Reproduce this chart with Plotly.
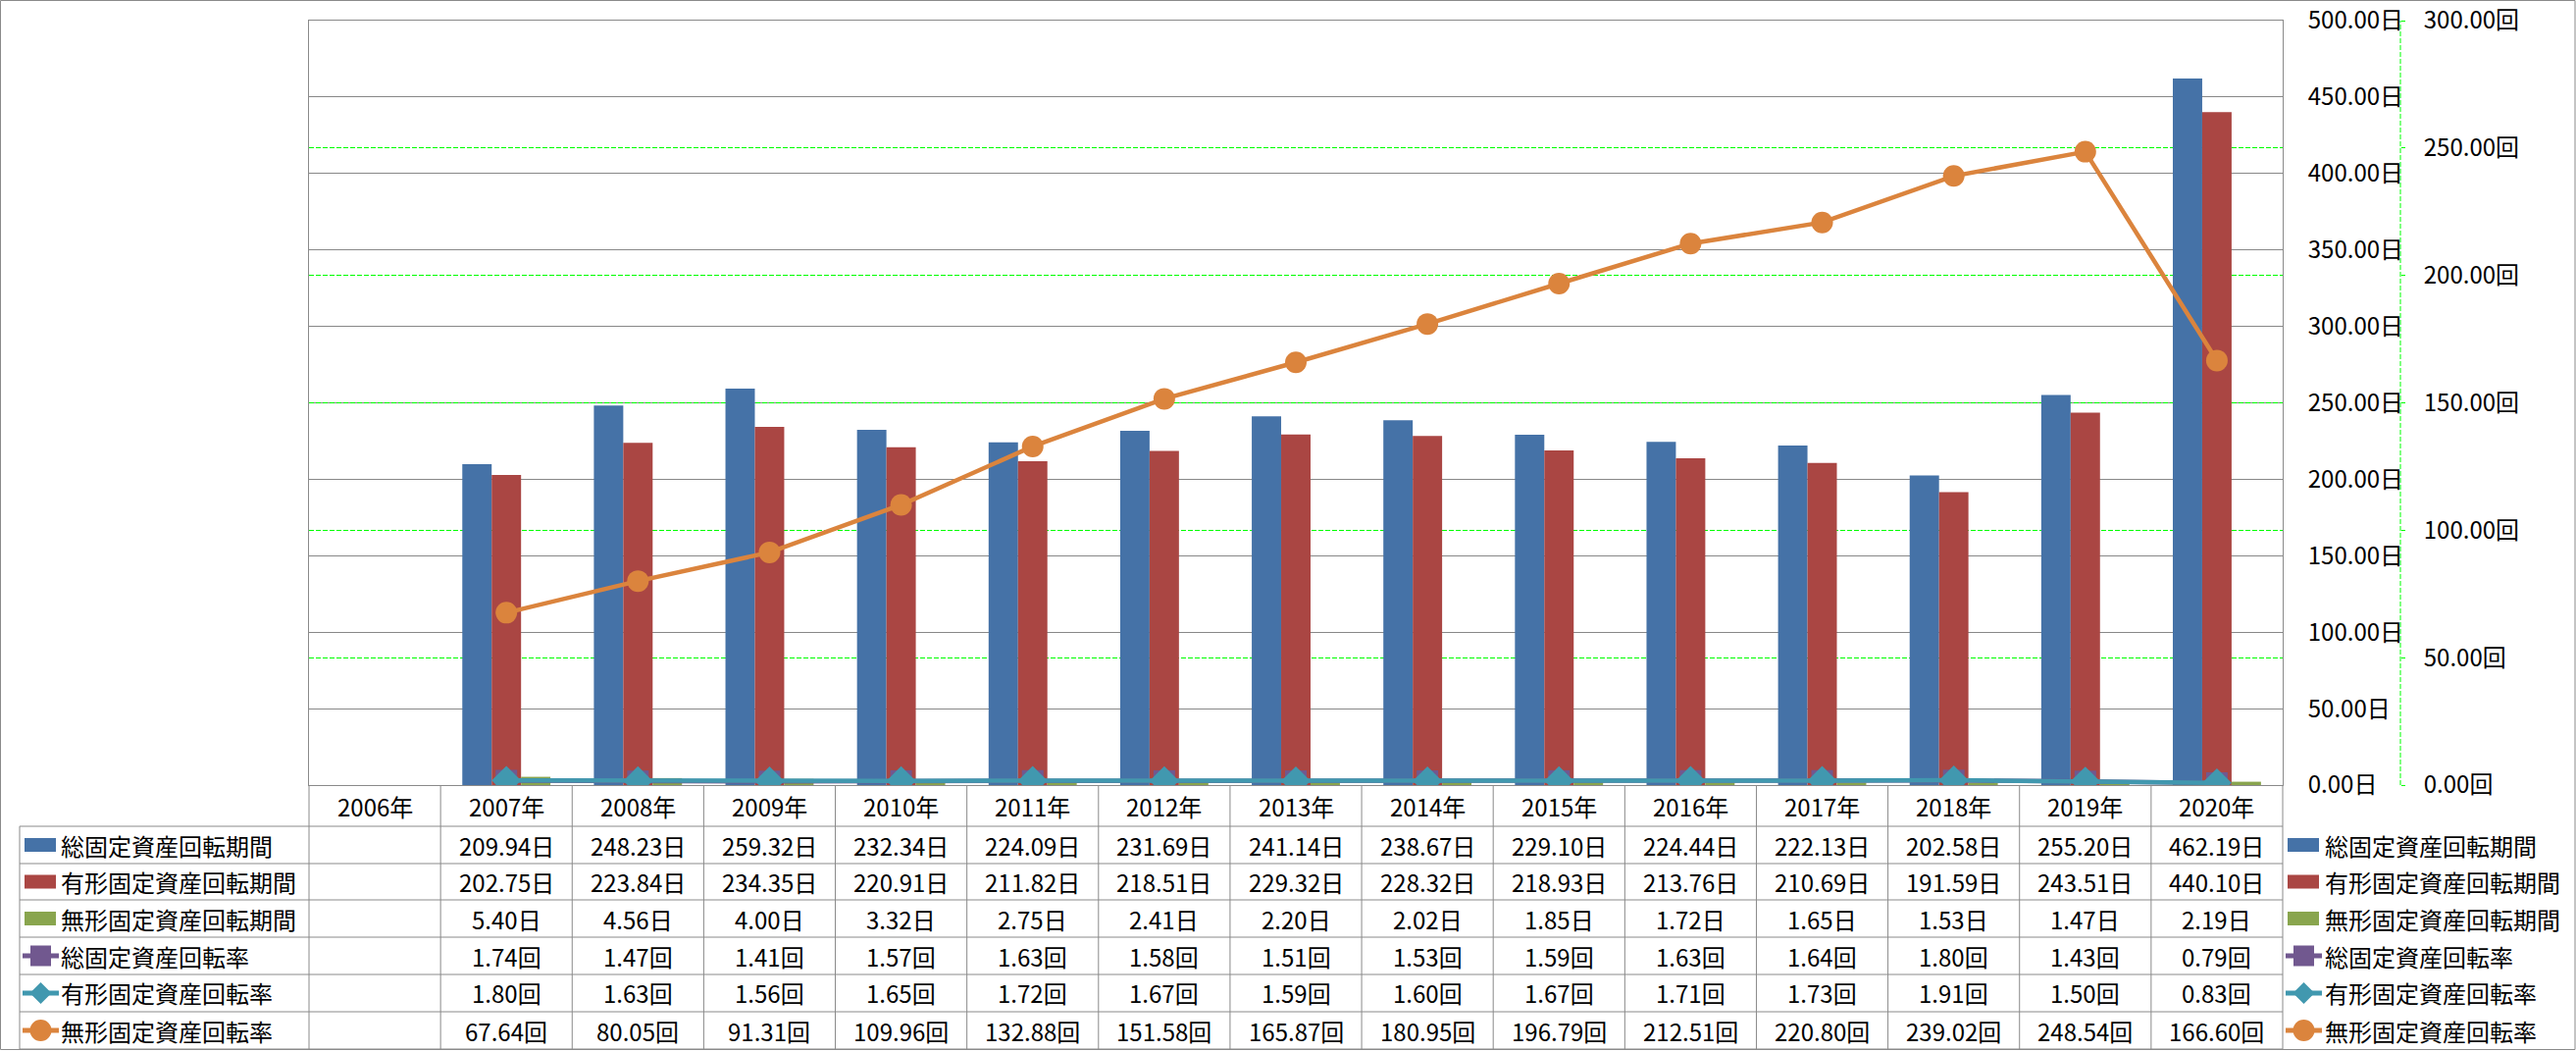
import plotly.graph_objects as go

# ---------------- data ----------------
years = ["2006年", "2007年", "2008年", "2009年", "2010年", "2011年", "2012年", "2013年",
         "2014年", "2015年", "2016年", "2017年", "2018年", "2019年", "2020年"]

total_days = [None, 209.94, 248.23, 259.32, 232.34, 224.09, 231.69, 241.14, 238.67,
              229.10, 224.44, 222.13, 202.58, 255.20, 462.19]
tangible_days = [None, 202.75, 223.84, 234.35, 220.91, 211.82, 218.51, 229.32, 228.32,
                 218.93, 213.76, 210.69, 191.59, 243.51, 440.10]
intangible_days = [None, 5.40, 4.56, 4.00, 3.32, 2.75, 2.41, 2.20, 2.02,
                   1.85, 1.72, 1.65, 1.53, 1.47, 2.19]
total_rate = [None, 1.74, 1.47, 1.41, 1.57, 1.63, 1.58, 1.51, 1.53,
              1.59, 1.63, 1.64, 1.80, 1.43, 0.79]
tangible_rate = [None, 1.80, 1.63, 1.56, 1.65, 1.72, 1.67, 1.59, 1.60,
                 1.67, 1.71, 1.73, 1.91, 1.50, 0.83]
intangible_rate = [None, 67.64, 80.05, 91.31, 109.96, 132.88, 151.58, 165.87, 180.95,
                   196.79, 212.51, 220.80, 239.02, 248.54, 166.60]

days_ticks = [0, 50, 100, 150, 200, 250, 300, 350, 400, 450, 500]
rate_ticks = [0, 50, 100, 150, 200, 250, 300]

series_names = ["総固定資産回転期間", "有形固定資産回転期間", "無形固定資産回転期間",
                "総固定資産回転率", "有形固定資産回転率", "無形固定資産回転率"]
series_values = [total_days, tangible_days, intangible_days,
                 total_rate, tangible_rate, intangible_rate]
series_units = ["日", "日", "日", "回", "回", "回"]
series_kinds = ["bar", "bar", "bar", "line", "line", "line"]
series_colors = ["#4572A7", "#AA4643", "#89A54E", "#71588F", "#4198AF", "#DB843D"]
series_symbols = [None, None, None, "square", "diamond", "circle"]
marker_sizes = [None, None, None, 22, 23, 22]

# ---------------- geometry ----------------
W, H = 2626, 1071
ML, MR, MT, MB = 315, 179, 21, 271
PW = W - ML - MR
PH = H - MT - MB
PLOT_RIGHT = 2327
XDOM = (PLOT_RIGHT - ML) / PW


def fx(p):
    return (p - ML) / PW


def fy(p):
    return (H - MB - p) / PH


FONT = "Noto Sans CJK JP, Noto Sans, sans-serif"
FS = 24
GRID = "#888888"
BORDER = "#8a8a8a"
GREEN = "#00FF00"

fig = go.Figure()

for name, vals, kind, color, sym, ms in zip(series_names, series_values, series_kinds,
                                            series_colors, series_symbols, marker_sizes):
    if kind == "bar":
        fig.add_trace(go.Bar(x=years, y=vals, name=name,
                             marker=dict(color=color, line=dict(width=0))))
    else:
        fig.add_trace(go.Scatter(x=years, y=vals, name=name, yaxis="y2",
                                 mode="lines+markers",
                                 line=dict(color=color, width=4.5),
                                 marker=dict(symbol=sym, size=ms, color=color,
                                             line=dict(width=0))))

shapes = []
annotations = []

# outer chart border
shapes.append(dict(type="rect", xref="paper", yref="paper",
                   x0=fx(0.5), x1=fx(2625), y0=fy(1069.5), y1=fy(0.5),
                   line=dict(color=BORDER, width=1), fillcolor="rgba(0,0,0,0)"))

# secondary axis dashed line
shapes.append(dict(type="line", xref="paper", yref="paper", x0=1, x1=1, y0=0, y1=1,
                   line=dict(color=GREEN, width=1, dash="5px,2px")))

# ---------------- data table ----------------
header_top, header_bot = 801, 842
row_lines = [842, 880, 917, 955, 993, 1031, 1069]
LABEL_LEFT = 20

for yl in row_lines:
    shapes.append(dict(type="line", xref="paper", yref="paper",
                       x0=fx(LABEL_LEFT), x1=XDOM, y0=fy(yl), y1=fy(yl),
                       line=dict(color=BORDER, width=1)))
shapes.append(dict(type="line", xref="paper", yref="paper",
                   x0=fx(LABEL_LEFT), x1=fx(LABEL_LEFT), y0=fy(row_lines[0]), y1=fy(row_lines[-1]),
                   line=dict(color=BORDER, width=1)))
for xb in [0, XDOM]:
    shapes.append(dict(type="line", xref="paper", yref="paper",
                       x0=xb, x1=xb, y0=fy(header_top), y1=fy(row_lines[-1]),
                       line=dict(color=BORDER, width=1)))
for i in range(len(years) - 1):
    shapes.append(dict(type="line", xref="x", yref="paper",
                       x0=i + 0.5, x1=i + 0.5, y0=fy(header_top), y1=fy(row_lines[-1]),
                       line=dict(color=BORDER, width=1)))

# header years
for i, yr in enumerate(years):
    annotations.append(dict(xref="x", yref="paper", x=i, y=fy((header_top + header_bot) / 2),
                            text=yr, showarrow=False, xanchor="center", yanchor="middle",
                            font=dict(size=FS, family=FONT, color="black")))

# values
for r, (vals, unit) in enumerate(zip(series_values, series_units)):
    cy = (row_lines[r] + row_lines[r + 1]) / 2
    for i, v in enumerate(vals):
        if v is None:
            continue
        annotations.append(dict(xref="x", yref="paper", x=i, y=fy(cy),
                                text=f"{v:.2f}{unit}", showarrow=False,
                                xanchor="center", yanchor="middle",
                                font=dict(size=FS, family=FONT, color="black")))


def legend_key(x_left, x_right, cy, kind, color, sym):
    if kind == "bar":
        shapes.append(dict(type="rect", xref="paper", yref="paper",
                           x0=fx(x_left + 2), x1=fx(x_right - 3), y0=fy(cy + 7), y1=fy(cy - 7),
                           line=dict(width=0), fillcolor=color))
        return
    shapes.append(dict(type="line", xref="paper", yref="paper",
                       x0=fx(x_left), x1=fx(x_right), y0=fy(cy), y1=fy(cy),
                       line=dict(color=color, width=5)))
    cx = (x_left + x_right) / 2
    if sym == "square":
        h = 10.5
        shapes.append(dict(type="rect", xref="paper", yref="paper",
                           x0=fx(cx - h), x1=fx(cx + h), y0=fy(cy + h), y1=fy(cy - h),
                           line=dict(width=0), fillcolor=color))
    elif sym == "diamond":
        h = 11
        path = (f"M{fx(cx - h)},{fy(cy)} L{fx(cx)},{fy(cy - h)} "
                f"L{fx(cx + h)},{fy(cy)} L{fx(cx)},{fy(cy + h)} Z")
        shapes.append(dict(type="path", xref="paper", yref="paper", path=path,
                           line=dict(width=0), fillcolor=color))
    else:
        h = 11
        shapes.append(dict(type="circle", xref="paper", yref="paper",
                           x0=fx(cx - h), x1=fx(cx + h), y0=fy(cy + h), y1=fy(cy - h),
                           line=dict(width=0), fillcolor=color))


for r, (name, kind, color, sym) in enumerate(zip(series_names, series_kinds,
                                                 series_colors, series_symbols)):
    cy = (row_lines[r] + row_lines[r + 1]) / 2
    # key + label inside the table
    legend_key(23, 60, cy, kind, color, sym)
    annotations.append(dict(xref="paper", yref="paper", x=fx(60), y=fy(cy), text=name,
                            showarrow=False, xanchor="left", yanchor="middle",
                            font=dict(size=FS, family=FONT, color="black")))
    # legend on the right
    legend_key(2330, 2367, cy, kind, color, sym)
    annotations.append(dict(xref="paper", yref="paper", x=fx(2368), y=fy(cy), text=name,
                            showarrow=False, xanchor="left", yanchor="middle",
                            font=dict(size=FS, family=FONT, color="black")))

fig.update_layout(
    template="none",
    width=W, height=H,
    margin=dict(l=ML, r=MR, t=MT, b=MB, pad=0, autoexpand=False),
    paper_bgcolor="white", plot_bgcolor="white",
    barmode="group", bargap=0.33, bargroupgap=0,
    showlegend=False,
    font=dict(family=FONT, size=FS, color="black"),
    xaxis=dict(domain=[0, XDOM], type="category", categoryorder="array",
               categoryarray=years, range=[-0.5, len(years) - 0.5],
               showticklabels=False, ticks="", showgrid=False, zeroline=False,
               showline=True, mirror=True, linecolor=BORDER, linewidth=1,
               automargin=False),
    yaxis=dict(range=[0, 500], tickmode="array", tickvals=days_ticks,
               ticktext=[f"{t:.2f}日" for t in days_ticks], side="right",
               showgrid=True, gridcolor=GRID, gridwidth=1, zeroline=False,
               showline=True, mirror=True, linecolor=BORDER, linewidth=1,
               ticks="", ticklabelstandoff=20, automargin=False,
               ticklabeloverflow="allow",
               tickfont=dict(size=FS, family=FONT, color="black")),
    yaxis2=dict(range=[0, 300], tickmode="array", tickvals=rate_ticks,
                ticktext=[f"{t:.2f}回" for t in rate_ticks],
                overlaying="y", anchor="free", position=1, side="right",
                showgrid=True, gridcolor=GREEN, griddash="5px,2px", gridwidth=1,
                zeroline=False, showline=False,
                ticks="outside", ticklen=4, tickcolor=GREEN, tickwidth=1,
                ticklabelstandoff=14, automargin=False,
                ticklabeloverflow="allow",
                tickfont=dict(size=FS, family=FONT, color="black")),
    shapes=shapes,
    annotations=annotations,
)

fig.write_html("out.html")
